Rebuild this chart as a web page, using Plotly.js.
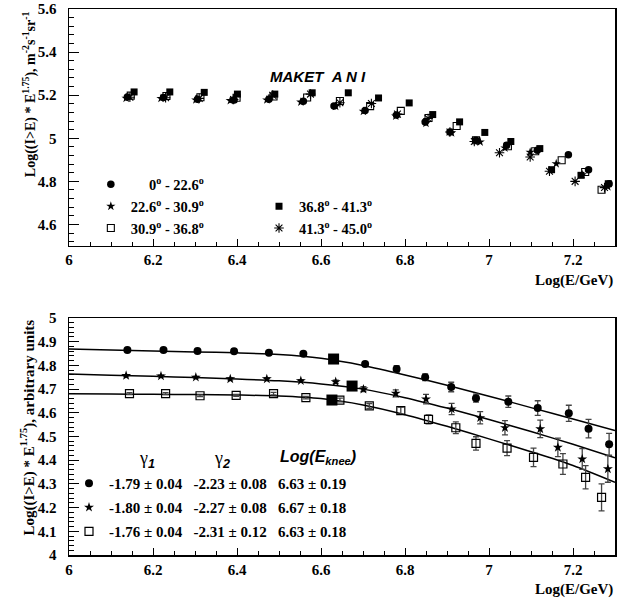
<!DOCTYPE html>
<html><head><meta charset="utf-8">
<script src="https://cdn.plot.ly/plotly-3.0.1.min.js"></script>
<style>html,body{margin:0;padding:0;background:#fff}</style>
</head><body><div id="chart" style="width:630px;height:599px"></div>
<script>
// ---------- TOP PANEL: MAKET ANI, five zenith-angle bins ----------
var seriesNames = ["\u00a0\u00a0\u00a0\u00a0\u00a00<sup>o</sup> - 22.6<sup>o</sup>", "22.6<sup>o</sup> - 30.9<sup>o</sup>", "30.9<sup>o</sup> - 36.8<sup>o</sup>", "36.8<sup>o</sup> - 41.3<sup>o</sup>", "41.3<sup>o</sup> - 45.0<sup>o</sup>"];

var xA = [6.139, 6.225, 6.306, 6.393, 6.476, 6.558, 6.631, 6.705, 6.780, 6.848, 6.907, 6.969, 7.042, 7.115, 7.189, 7.237, 7.286];
var yA = [5.192, 5.189, 5.181, 5.177, 5.181, 5.172, 5.150, 5.129, 5.108, 5.076, 5.029, 4.991, 4.967, 4.944, 4.924, 4.854, 4.789];

var xB = [6.136, 6.219, 6.302, 6.384, 6.471, 6.552, 6.635, 6.701, 6.778, 6.850, 6.911, 6.979, 7.038, 7.098, 7.160, 7.222, 7.283];
var yB = [5.186, 5.185, 5.178, 5.175, 5.178, 5.168, 5.148, 5.125, 5.103, 5.070, 5.025, 4.983, 4.955, 4.935, 4.882, 4.830, 4.775];

var xC = [6.147, 6.232, 6.313, 6.399, 6.487, 6.567, 6.645, 6.717, 6.790, 6.856, 6.923, 6.969, 7.045, 7.110, 7.173, 7.229, 7.268];
var yC = [5.198, 5.196, 5.190, 5.188, 5.194, 5.189, 5.173, 5.149, 5.127, 5.094, 5.057, 4.991, 4.963, 4.940, 4.898, 4.843, 4.761];

var xD = [6.155, 6.240, 6.322, 6.401, 6.490, 6.579, 6.665, 6.737, 6.810, 6.866, 6.930, 6.990, 7.052, 7.121, 7.149, 7.219, 7.284];
var yD = [5.215, 5.215, 5.213, 5.205, 5.205, 5.211, 5.211, 5.187, 5.164, 5.110, 5.076, 5.027, 4.985, 4.952, 4.854, 4.828, 4.789];

var xE = [6.145, 6.230, 6.310, 6.392, 6.485, 6.575, 6.645, 6.720, 6.782, 6.855, 6.907, 6.965, 7.025, 7.098, 7.144, 7.205, 7.275];
var yE = [5.190, 5.188, 5.185, 5.180, 5.200, 5.205, 5.165, 5.161, 5.112, 5.092, 5.029, 4.985, 4.933, 4.913, 4.847, 4.800, 4.771];

// ---------- BOTTOM PANEL: spectra with fits ----------
var rowLabels = [
  "-1.79 \u00b1 0.04\u00a0\u00a0\u00a0-2.23 \u00b1 0.08\u00a0\u00a0\u00a06.63 \u00b1 0.19",
  "-1.80 \u00b1 0.04\u00a0\u00a0\u00a0-2.27 \u00b1 0.08\u00a0\u00a0\u00a06.67 \u00b1 0.18",
  "-1.76 \u00b1 0.04\u00a0\u00a0\u00a0-2.31 \u00b1 0.12\u00a0\u00a0\u00a06.63 \u00b1 0.18"
];

var bx1 = [6.139, 6.225, 6.306, 6.393, 6.476, 6.558, 6.631, 6.705, 6.780, 6.848, 6.910, 6.969, 7.046, 7.116, 7.190, 7.237, 7.286];
var by1 = [4.865, 4.865, 4.861, 4.860, 4.854, 4.849, 4.828, 4.806, 4.785, 4.750, 4.709, 4.662, 4.647, 4.620, 4.598, 4.533, 4.467];
var be1 = [0.004, 0.004, 0.004, 0.004, 0.005, 0.005, 0.008, 0.010, 0.014, 0.014, 0.020, 0.017, 0.024, 0.031, 0.034, 0.039, 0.046];

var bx2 = [6.136, 6.219, 6.302, 6.384, 6.471, 6.552, 6.635, 6.701, 6.778, 6.850, 6.911, 6.979, 7.038, 7.122, 7.164, 7.222, 7.283];
var by2 = [4.757, 4.755, 4.750, 4.743, 4.743, 4.735, 4.731, 4.700, 4.682, 4.658, 4.616, 4.579, 4.537, 4.532, 4.454, 4.405, 4.363];
var be2 = [0.004, 0.004, 0.004, 0.004, 0.005, 0.005, 0.007, 0.010, 0.015, 0.020, 0.024, 0.026, 0.030, 0.037, 0.039, 0.044, 0.056];

var bx3 = [6.144, 6.230, 6.312, 6.398, 6.487, 6.564, 6.645, 6.715, 6.790, 6.856, 6.921, 6.969, 7.043, 7.106, 7.176, 7.230, 7.268];
var by3 = [4.681, 4.681, 4.672, 4.674, 4.681, 4.664, 4.654, 4.629, 4.609, 4.572, 4.537, 4.471, 4.451, 4.412, 4.384, 4.328, 4.243];
var be3 = [0.004, 0.004, 0.004, 0.004, 0.005, 0.005, 0.008, 0.010, 0.015, 0.019, 0.025, 0.028, 0.032, 0.039, 0.044, 0.049, 0.057];

// fit curves
var fitX  = [6.0, 6.1, 6.2, 6.3, 6.4, 6.5, 6.6, 6.7, 6.8, 6.9, 7.0, 7.1, 7.2, 7.3];
var fitY1 = [4.869, 4.865, 4.861, 4.857, 4.853, 4.846, 4.830, 4.800, 4.760, 4.716, 4.670, 4.622, 4.574, 4.525];
var fitY2 = [4.764, 4.759, 4.754, 4.749, 4.743, 4.735, 4.722, 4.700, 4.664, 4.620, 4.572, 4.521, 4.467, 4.410];
var fitY3 = [4.680, 4.679, 4.678, 4.677, 4.675, 4.671, 4.660, 4.633, 4.592, 4.543, 4.490, 4.436, 4.378, 4.307];

// knee positions
var kneeX = [6.63, 6.674, 6.626];
var kneeY = [4.827, 4.713, 4.654];

var serif = "Liberation Serif, Times New Roman, serif";
var sans = "Liberation Sans, Arial, sans-serif";

function pts(x, y, sym, size, name, legend, lw, xa, ya) {
  return {x: x, y: y, type: 'scatter', mode: 'markers', name: name, legend: legend,
    xaxis: xa || 'x', yaxis: ya || 'y', showlegend: true,
    marker: {symbol: sym, size: size, color: 'black', line: {color: 'black', width: lw}}};
}

var traces = [];
// top panel
traces.push(pts(xA, yA, 'circle', 7.5, seriesNames[0], 'legend', 0));
traces.push(pts(xB, yB, 'star', 7, seriesNames[1], 'legend', 0));
traces.push(pts(xC, yC, 'square-open', 7, seriesNames[2], 'legend', 1.1));
traces.push(pts(xD, yD, 'square', 7, seriesNames[3], 'legend2', 0));
traces.push(pts(xE, yE, 'asterisk-open', 8, seriesNames[4], 'legend2', 1.1));

// bottom panel fits
[fitY1, fitY2, fitY3].forEach(function (fy) {
  traces.push({x: fitX, y: fy, type: 'scatter', mode: 'lines', xaxis: 'x2', yaxis: 'y2',
    showlegend: false, line: {color: 'black', width: 1.5, shape: 'spline', smoothing: 0.8}});
});
function eb(arr) { return {type: 'data', array: arr, visible: true, color: '#444', thickness: 1.3, width: 3}; }
var t1 = pts(bx1, by1, 'circle', 8, rowLabels[0], 'legend3', 0, 'x2', 'y2'); t1.error_y = eb(be1); t1.legendgroup = 'g1';
var t2 = pts(bx2, by2, 'star', 7.5, rowLabels[1], 'legend3', 0, 'x2', 'y2'); t2.error_y = eb(be2); t2.legendgroup = 'g2';
var t3 = pts(bx3, by3, 'square-open', 8, rowLabels[2], 'legend3', 1.2, 'x2', 'y2'); t3.error_y = eb(be3); t3.legendgroup = 'g3';
traces.push(t1, t2, t3);
traces.push({x: kneeX, y: kneeY, type: 'scatter', mode: 'markers', xaxis: 'x2', yaxis: 'y2', showlegend: false,
  marker: {symbol: 'square', size: 11, color: 'black'}});

var tickFont = {family: serif, size: 15, weight: 'bold', color: 'black'};
function xax(anchor) {
  return {anchor: anchor, range: [6, 7.3], tick0: 6, dtick: 0.2, ticks: 'inside', ticklen: 7, tickwidth: 1,
    tickcolor: 'black', minor: {dtick: 0.05, ticks: 'inside', ticklen: 4, tickcolor: 'black', tickwidth: 1},
    showline: true, linewidth: 1.5, linecolor: 'black', mirror: true, showgrid: false, zeroline: false,
    tickfont: tickFont, fixedrange: true};
}
function yax(anchor, domain, range, dt, mdt, t0) {
  return {anchor: anchor, domain: domain, range: range, tick0: t0, dtick: dt, ticks: 'inside', ticklen: 10,
    tickwidth: 1, tickcolor: 'black', minor: {dtick: mdt, ticks: 'inside', ticklen: 5, tickcolor: 'black', tickwidth: 1},
    showline: true, linewidth: 1.5, linecolor: 'black', mirror: true, showgrid: false, zeroline: false,
    tickfont: tickFont, ticklabelstandoff: 8, fixedrange: true};
}

var legBase = {xanchor: 'left', yanchor: 'top', bgcolor: 'rgba(0,0,0,0)', borderwidth: 0,
  font: {family: serif, size: 15, weight: 'bold', color: 'black'}, tracegroupgap: 0, itemclick: false, itemdoubleclick: false};

var layout = {
  width: 630, height: 599,
  margin: {l: 69, r: 15, t: 9, b: 44},
  paper_bgcolor: 'white', plot_bgcolor: 'white',
  showlegend: true,
  xaxis: xax('y'),
  yaxis: yax('x', [0.566, 1], [4.5, 5.6], 0.2, 0.04, 4.6),
  xaxis2: xax('y2'),
  yaxis2: yax('x2', [0, 0.434], [4, 5], 0.1, 0.02, 4),
  legend: Object.assign({}, legBase, {x: 0.04, y: 0.708, font: {family: serif, size: 14.5, weight: 'bold', color: 'black'}}),
  legend2: Object.assign({}, legBase, {x: 0.348, y: 0.668, font: {family: serif, size: 14.5, weight: 'bold', color: 'black'}}),
  legend3: Object.assign({}, legBase, {x: 0.0, y: 0.161, tracegroupgap: 1.5}),
  annotations: [
    {text: 'MAKET\u00a0\u00a0A N I', xref: 'paper', yref: 'paper', x: 0.456, y: 0.8755, xanchor: 'center', yanchor: 'middle', showarrow: false,
      font: {family: sans, size: 15, weight: 'bold', style: 'italic', color: 'black'}},
    {text: 'Log((I>E) * E<sup>1.75</sup>), m<sup>-2</sup>s<sup>-1</sup>sr<sup>-1</sup>', textangle: -90,
      xref: 'paper', yref: 'paper', x: -0.073, y: 1.0, xanchor: 'center', yanchor: 'top', showarrow: false,
      font: {family: serif, size: 14, weight: 'bold', color: 'black'}},
    {text: 'Log((I>E) * E<sup>1.75</sup>), arbitrary units', textangle: -90,
      xref: 'paper', yref: 'paper', x: -0.076, y: 0.434, xanchor: 'center', yanchor: 'top', showarrow: false,
      font: {family: serif, size: 15, weight: 'bold', color: 'black'}},
    {text: 'Log(E/GeV)', xref: 'paper', yref: 'paper', x: 1, y: 0.502, xanchor: 'right', yanchor: 'middle',
      showarrow: false, font: {family: serif, size: 15, weight: 'bold', color: 'black'}},
    {text: 'Log(E/GeV)', xref: 'paper', yref: 'paper', x: 1, y: -0.064, xanchor: 'right', yanchor: 'middle',
      showarrow: false, font: {family: serif, size: 15, weight: 'bold', color: 'black'}},
    {text: '\u03b3<sub><span style="font-family:Liberation Sans;font-weight:bold;font-style:italic">1</span></sub>',
      xref: 'paper', yref: 'paper', x: 0.143, y: 0.174, xanchor: 'center', yanchor: 'middle', showarrow: false,
      font: {family: serif, size: 18, color: 'black'}},
    {text: '\u03b3<sub><span style="font-family:Liberation Sans;font-weight:bold;font-style:italic">2</span></sub>',
      xref: 'paper', yref: 'paper', x: 0.280, y: 0.174, xanchor: 'center', yanchor: 'middle', showarrow: false,
      font: {family: serif, size: 18, color: 'black'}},
    {text: 'Log(E<sub>knee</sub>)', xref: 'paper', yref: 'paper', x: 0.456, y: 0.178, xanchor: 'center', yanchor: 'middle', showarrow: false,
      font: {family: sans, size: 16, weight: 'bold', style: 'italic', color: 'black'}}
  ]
};

Plotly.newPlot('chart', traces, layout, {displayModeBar: false, staticPlot: true});
</script></body></html>
